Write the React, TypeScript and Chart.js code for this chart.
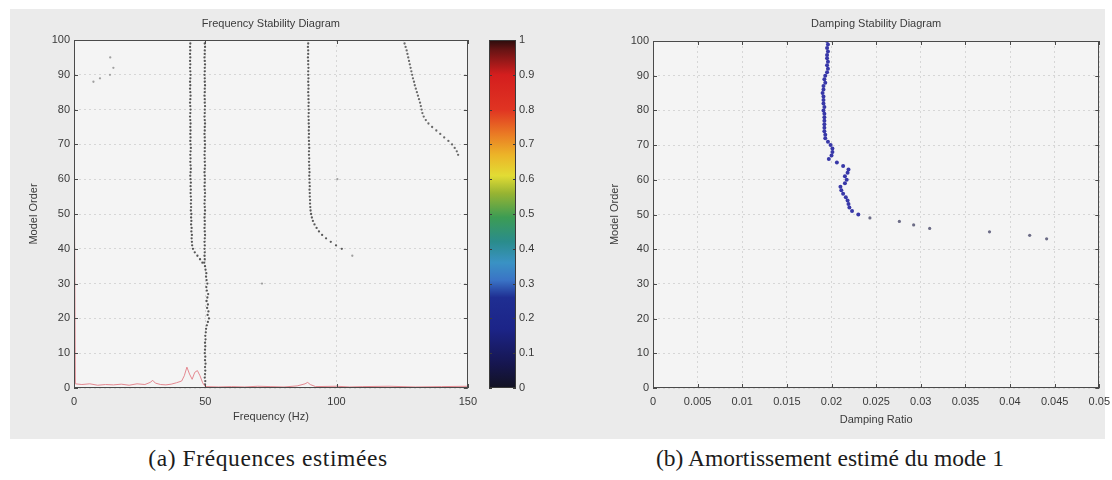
import React, { useEffect, useRef } from "react";
import { Chart, registerables } from "chart.js";

Chart.register(...registerables);

// ---------------- DATA ----------------
const orders = [
  1, 2, 3, 4, 5, 6, 7, 8, 9, 10,
  11, 12, 13, 14, 15, 16, 17, 18, 19, 20,
  21, 22, 23, 24, 25, 26, 27, 28, 29, 30,
  31, 32, 33, 34, 35, 36, 37, 38, 39, 40,
  41, 42, 43, 44, 45, 46, 47, 48, 49, 50,
  51, 52, 53, 54, 55, 56, 57, 58, 59, 60,
  61, 62, 63, 64, 65, 66, 67, 68, 69, 70,
  71, 72, 73, 74, 75, 76, 77, 78, 79, 80,
  81, 82, 83, 84, 85, 86, 87, 88, 89, 90,
  91, 92, 93, 94, 95, 96, 97, 98, 99, 100,
];

// estimated frequency (Hz) of each pole, per model order (null = no pole)
const freqMode50 = [
  49.9, 50.0, 49.8, 49.9, 50.0, 49.9, 50.1, 49.9, 50.0, 49.8,
  49.9, 50.0, 49.9, 50.1, 50.0, 50.2, 50.3, 50.6, 51.0, 51.4,
  50.9, 51.2, 50.7, 51.0, 50.5, 50.8, 51.1, 50.6, 50.4, 50.8,
  50.5, 50.3, 50.4, 50.1, 49.9, 49.6, 49.8, 49.7, 49.8, 49.7,
  49.8, 49.7, 49.8, 49.9, 49.8, 49.7, 49.8, 49.8, 49.7, 49.8,
  49.9, 49.8, 49.7, 49.8, 49.8, 49.9, 49.8, 49.7, 49.8, 49.8,
  49.8, 49.7, 49.8, 49.9, 49.8, 49.8, 49.7, 49.8, 49.8, 49.9,
  49.8, 49.8, 49.7, 49.8, 49.8, 49.9, 49.8, 49.7, 49.8, 49.8,
  49.9, 49.8, 49.8, 49.7, 49.8, 49.8, 49.9, 49.8, 49.8, 49.7,
  49.8, 49.8, 49.9, 49.8, 49.7, 49.8, 49.8, 49.9, 49.8, 49.9,
];
const freqMode45 = [
  null, null, null, null, null, null, null, null, null, null,
  null, null, null, null, null, null, null, null, null, null,
  null, null, null, null, null, null, null, null, null, null,
  null, null, null, null, null, 48.9, 48.0, 47.0, 46.0, 45.3,
  45.0, 44.9, 44.8, 44.9, 44.7, 44.8, 44.6, 44.7, 44.6, 44.7,
  44.5, 44.6, 44.5, 44.6, 44.5, 44.4, 44.5, 44.4, 44.5, 44.4,
  44.3, 44.4, 44.5, 44.4, 44.3, 44.4, 44.3, 44.4, 44.5, 44.4,
  44.3, 44.4, 44.3, 44.4, 44.3, 44.4, 44.3, 44.2, 44.3, 44.4,
  44.3, 44.2, 44.3, 44.4, 44.3, 44.2, 44.3, 44.2, 44.3, 44.4,
  44.3, 44.2, 44.3, 44.2, 44.3, 44.2, 44.3, 44.2, 44.3, 44.2,
];
const freqMode90 = [
  null, null, null, null, null, null, null, null, null, null,
  null, null, null, null, null, null, null, null, null, null,
  null, null, null, null, null, null, null, null, null, null,
  null, null, null, null, null, null, null, null, null, 102.0,
  99.8, 97.8, 96.0, 94.5, 93.3, 92.4, 91.6, 91.0, 90.6, 90.3,
  90.1, 90.0, 89.9, 89.9, 89.8, 89.8, 89.7, 89.8, 89.7, 89.7,
  89.6, 89.7, 89.6, 89.6, 89.5, 89.6, 89.5, 89.5, 89.6, 89.5,
  89.5, 89.4, 89.5, 89.4, 89.5, 89.4, 89.4, 89.3, 89.4, 89.4,
  89.3, 89.4, 89.3, 89.3, 89.2, 89.3, 89.3, 89.2, 89.3, 89.2,
  89.2, 89.3, 89.2, 89.2, 89.1, 89.2, 89.2, 89.1, 89.2, 89.1,
];
const freqMode130 = [
  null, null, null, null, null, null, null, null, null, null,
  null, null, null, null, null, null, null, null, null, null,
  null, null, null, null, null, null, null, null, null, null,
  null, null, null, null, null, null, null, null, null, null,
  null, null, null, null, null, null, null, null, null, null,
  null, null, null, null, null, null, null, null, null, null,
  null, null, null, null, null, null, 146.3, 145.8, 145.0, 144.0,
  142.6, 141.0, 139.5, 138.0, 136.4, 135.0, 134.0, 133.2, 132.7, 132.4,
  132.1, 131.8, 131.4, 131.0, 130.6, 130.2, 129.8, 129.5, 129.1, 128.8,
  128.5, 128.2, 127.9, 127.6, 127.3, 127.0, 126.7, 126.3, 125.9, 125.5,
];
const spuriousFreq = [13.8, 15.0, 13.7, 9.9, 7.4, 71.6, 100.3, 106.0];
const spuriousOrder = [95, 92, 90, 89, 88, 30, 60, 38];

// spectrum (red curve) overlaid at the bottom
const spectrumFreq = [
  0, 0.5, 3, 6, 9, 12, 15, 18, 21, 24, 27, 29, 30, 31, 33, 35, 37, 39, 41, 42,
  43, 44, 45, 46, 47, 48, 49, 50, 55, 60, 65, 70, 75, 80, 85, 88, 89, 90, 92,
  100, 105, 110, 120, 130, 140, 150,
];
const spectrumAmp = [
  80, 1.2, 1.0, 1.2, 0.8, 1.0, 0.9, 1.1, 0.8, 1.2, 1.0, 1.6, 2.2, 1.4, 1.0, 0.9,
  1.1, 1.5, 2.0, 3.5, 6.0, 4.0, 2.5, 4.5, 5.0, 3.5, 1.5, 0.4, 0.3, 0.4, 0.3, 0.5,
  0.4, 0.3, 0.6, 1.2, 1.6, 1.0, 0.4, 0.5, 0.3, 0.4, 0.5, 0.3, 0.4, 0.5,
];

// colorbar
const colorbarTicks = [0, 0.1, 0.2, 0.3, 0.4, 0.5, 0.6, 0.7, 0.8, 0.9, 1];
const colorbarStops = [0, 0.07, 0.17, 0.26, 0.31, 0.36, 0.42, 0.49, 0.56, 0.61, 0.67, 0.73, 0.8, 0.9, 0.97, 1];
const colorbarColors = [
  "#121222", "#161650", "#1c2488", "#1f2e92", "#3a74c6", "#3a92c4", "#2a8c8c",
  "#3c9c54", "#98b432", "#e2dc34", "#ecb428", "#ea7a24", "#e03422", "#d41e1e",
  "#6a1414", "#2a0c0c",
];

// damping of mode 1
const dampOrders = [
  50, 51, 52, 53, 54, 55, 56, 57, 58, 59, 60, 61, 62, 63, 64, 65, 66, 67, 68, 69,
  70, 71, 72, 73, 74, 75, 76, 77, 78, 79, 80, 81, 82, 83, 84, 85, 86, 87, 88, 89,
  90, 91, 92, 93, 94, 95, 96, 97, 98, 99, 100,
];
const dampRatio = [
  0.0230, 0.0223, 0.0220, 0.0219, 0.0218, 0.0216, 0.0213, 0.0211, 0.0210, 0.0215,
  0.0217, 0.0215, 0.0218, 0.0219, 0.0213, 0.0206, 0.0197, 0.0200, 0.0201, 0.0201,
  0.0199, 0.0196, 0.0193, 0.0193, 0.0192, 0.0192, 0.0192, 0.0192, 0.0192, 0.0192,
  0.0191, 0.0192, 0.0191, 0.0191, 0.0191, 0.0190, 0.0191, 0.0191, 0.0193, 0.0192,
  0.0193, 0.0195, 0.0196, 0.0195, 0.0196, 0.0195, 0.0195, 0.0196, 0.0195, 0.0196,
  0.0195,
];
const dampOutlierOrders = [43, 44, 45, 46, 47, 48, 49];
const dampOutlierRatio = [0.0441, 0.0422, 0.0377, 0.0310, 0.0292, 0.0276, 0.0243];

// ---------------- STYLE ----------------
const FONT = "'Liberation Sans', Arial, sans-serif";
const TEXT = "#3a3a3a";
const GRID = "#d6d6d6";

const framePlugin = {
  id: "frame",
  beforeDraw(chart: any, _a: any, opts: any) {
    const a = chart.chartArea;
    if (!a || !opts.bg) return;
    const ctx = chart.ctx;
    ctx.save();
    ctx.fillStyle = opts.bg;
    ctx.fillRect(a.left, a.top, a.right - a.left, a.bottom - a.top);
    ctx.restore();
  },
  afterDraw(chart: any, _a: any, opts: any) {
    const a = chart.chartArea;
    if (!a) return;
    const ctx = chart.ctx;
    ctx.save();
    ctx.strokeStyle = opts.color || "#444";
    ctx.lineWidth = 1;
    ctx.strokeRect(Math.round(a.left) + 0.5, Math.round(a.top) + 0.5, Math.round(a.right - a.left) - 1, Math.round(a.bottom - a.top) - 1);
    const L = opts.tickLen ?? 4;
    Object.values(chart.scales).forEach((s: any) => {
      if (!s.options.display) return;
      s.ticks.forEach((t: any) => {
        const p = Math.round(s.getPixelForValue(t.value)) + 0.5;
        ctx.beginPath();
        if (s.isHorizontal()) {
          ctx.moveTo(p, a.bottom); ctx.lineTo(p, a.bottom - L);
          ctx.moveTo(p, a.top); ctx.lineTo(p, a.top + L);
        } else {
          ctx.moveTo(a.left, p); ctx.lineTo(a.left + L, p);
          ctx.moveTo(a.right, p); ctx.lineTo(a.right - L, p);
        }
        ctx.stroke();
      });
    });
    ctx.restore();
  },
};

const toPoints = (xs: (number | null)[], ys: number[]) =>
  xs.map((x, i) => (x == null ? null : { x, y: ys[i] })).filter(Boolean) as { x: number; y: number }[];

const tickFont = { family: FONT, size: 11 };

function axisY(width: number, titlePadTop: number, title: string) {
  return {
    type: "linear",
    min: 0,
    max: 100,
    ticks: { stepSize: 10, color: TEXT, font: tickFont, padding: 4 },
    grid: { color: GRID, drawTicks: false, lineWidth: 1 },
    border: { display: false, dash: [2, 3] },
    title: { display: true, text: title, color: TEXT, font: tickFont, padding: { top: titlePadTop, bottom: 0 } },
    afterFit: (s: any) => { s.width = width; },
  };
}

export default function App() {
  const leftRef = useRef<HTMLCanvasElement>(null);
  const barRef = useRef<HTMLCanvasElement>(null);
  const rightRef = useRef<HTMLCanvasElement>(null);

  useEffect(() => {
    const poleStyle = { borderWidth: 0, pointRadius: 1.15 };
    const left = new Chart(leftRef.current!, {
      type: "scatter",
      data: {
        datasets: [
          {
            label: "spectrum",
            data: toPoints(spectrumFreq, spectrumAmp),
            showLine: true,
            borderColor: "#e48890",
            borderWidth: 1,
            pointRadius: 0,
          },
          { label: "mode 50", data: toPoints(freqMode50, orders), backgroundColor: "#555555", ...poleStyle },
          { label: "mode 45", data: toPoints(freqMode45, orders), backgroundColor: "#555555", ...poleStyle },
          { label: "mode 90", data: toPoints(freqMode90, orders), backgroundColor: "#5a5a5a", ...poleStyle },
          { label: "mode 130", data: toPoints(freqMode130, orders), backgroundColor: "#6a6a6a", ...poleStyle },
          { label: "spurious", data: toPoints(spuriousFreq, spuriousOrder), backgroundColor: "#a0a0a0", ...poleStyle },
        ],
      },
      options: {
        responsive: false,
        animation: false,
        layout: { padding: { left: 0, right: 9, top: 0, bottom: 0 } },
        plugins: {
          legend: { display: false },
          tooltip: { enabled: false },
          title: {
            display: true,
            text: "Frequency Stability Diagram",
            color: TEXT,
            font: { family: FONT, size: 11, weight: "normal" },
            padding: { top: 9.4, bottom: 9.4 },
            fullSize: false,
          },
          frame: { bg: "#f4f4f4", color: "#4a4a4a", tickLen: 4 },
        } as any,
        scales: {
          x: {
            type: "linear",
            min: 0,
            max: 150,
            ticks: { stepSize: 50, color: TEXT, font: tickFont, padding: 7, maxRotation: 0 },
            grid: { color: GRID, drawTicks: false },
            border: { display: false, dash: [2, 3] },
            title: { display: true, text: "Frequency (Hz)", color: TEXT, font: tickFont, padding: { top: 0, bottom: 4 } },
            afterFit: (s: any) => { s.height = 40; },
          },
          y: axisY(64, 17, "Model Order"),
        } as any,
      },
      plugins: [framePlugin as any],
    });

    const bar = new Chart(barRef.current!, {
      type: "bar",
      data: {
        labels: ["colorbar"],
        datasets: [
          {
            data: [1],
            barPercentage: 1,
            categoryPercentage: 1,
            backgroundColor: (c: any) => {
              const a = c.chart.chartArea;
              if (!a) return "#000";
              const g = c.chart.ctx.createLinearGradient(0, a.bottom, 0, a.top);
              colorbarStops.forEach((s, i) => g.addColorStop(s, colorbarColors[i]));
              return g;
            },
          },
        ],
      },
      options: {
        responsive: false,
        animation: false,
        layout: { padding: { left: 9, right: 0, top: 32, bottom: 40 } },
        plugins: {
          legend: { display: false },
          tooltip: { enabled: false },
          frame: { color: "#3a3a3a", tickLen: 3 },
        } as any,
        scales: {
          x: { display: false },
          y: {
            position: "right",
            min: 0,
            max: 1,
            afterBuildTicks: (s: any) => { s.ticks = colorbarTicks.map((v) => ({ value: v })); },
            ticks: {
              color: TEXT,
              font: tickFont,
              padding: 3,
              callback: (v: any) => String(Math.round(Number(v) * 10) / 10),
            },
            grid: { display: false, drawTicks: false },
            border: { display: false },
            afterFit: (s: any) => { s.width = 24; },
          },
        } as any,
      },
      plugins: [framePlugin as any],
    });

    const right = new Chart(rightRef.current!, {
      type: "scatter",
      data: {
        datasets: [
          {
            label: "mode 1 damping",
            data: toPoints(dampRatio, dampOrders),
            backgroundColor: "#3838a8",
            borderWidth: 0,
            pointRadius: 2,
          },
          {
            label: "unstable",
            data: toPoints(dampOutlierRatio, dampOutlierOrders),
            backgroundColor: "#6c6c86",
            borderWidth: 0,
            pointRadius: 1.6,
          },
        ],
      },
      options: {
        responsive: false,
        animation: false,
        layout: { padding: { left: 0, right: 5, top: 0, bottom: 0 } },
        plugins: {
          legend: { display: false },
          tooltip: { enabled: false },
          title: {
            display: true,
            text: "Damping Stability Diagram",
            color: TEXT,
            font: { family: FONT, size: 11, weight: "normal" },
            padding: { top: 9.4, bottom: 10.4 },
            fullSize: false,
          },
          frame: { bg: "#f4f4f4", color: "#4a4a4a", tickLen: 4 },
        } as any,
        scales: {
          x: {
            type: "linear",
            min: 0,
            max: 0.05,
            ticks: {
              stepSize: 0.005,
              color: TEXT,
              font: tickFont,
              padding: 7,
              maxRotation: 0,
              autoSkip: false,
              callback: (v: any) => String(parseFloat(Number(v).toFixed(3))),
            },
            grid: { color: GRID, drawTicks: false },
            border: { display: false, dash: [2, 3] },
            title: { display: true, text: "Damping Ratio", color: TEXT, font: tickFont, padding: { top: 0, bottom: 1.4 } },
            afterFit: (s: any) => { s.height = 40; },
          },
          y: axisY(63, 18.4, "Model Order"),
        } as any,
      },
      plugins: [framePlugin as any],
    });

    return () => {
      left.destroy();
      bar.destroy();
      right.destroy();
    };
  }, []);

  const caption: React.CSSProperties = {
    position: "absolute",
    top: 444,
    fontFamily: "'Liberation Serif', 'Times New Roman', serif",
    fontSize: 23.5,
    lineHeight: "28px",
    color: "#1c1c1c",
    textAlign: "center",
    whiteSpace: "nowrap",
  };

  return (
    <div style={{ position: "absolute", left: 0, top: 0, width: 1112, height: 480, background: "#ffffff", overflow: "hidden" }}>
      <div style={{ position: "absolute", left: 10, top: 9, width: 1095, height: 430, background: "#ebebeb" }} />
      <canvas ref={leftRef} width={474} height={420} style={{ position: "absolute", left: 10, top: 8, width: 474, height: 420 }} />
      <canvas ref={barRef} width={60} height={420} style={{ position: "absolute", left: 480, top: 8, width: 60, height: 420 }} />
      <canvas ref={rightRef} width={527} height={420} style={{ position: "absolute", left: 590, top: 8, width: 527, height: 420 }} />
      <div style={{ ...caption, left: 0, width: 536, letterSpacing: 0.6 }}>(a) Fréquences estimées</div>
      <div style={{ ...caption, left: 580, width: 500 }}>(b) Amortissement estimé du mode 1</div>
    </div>
  );
}
